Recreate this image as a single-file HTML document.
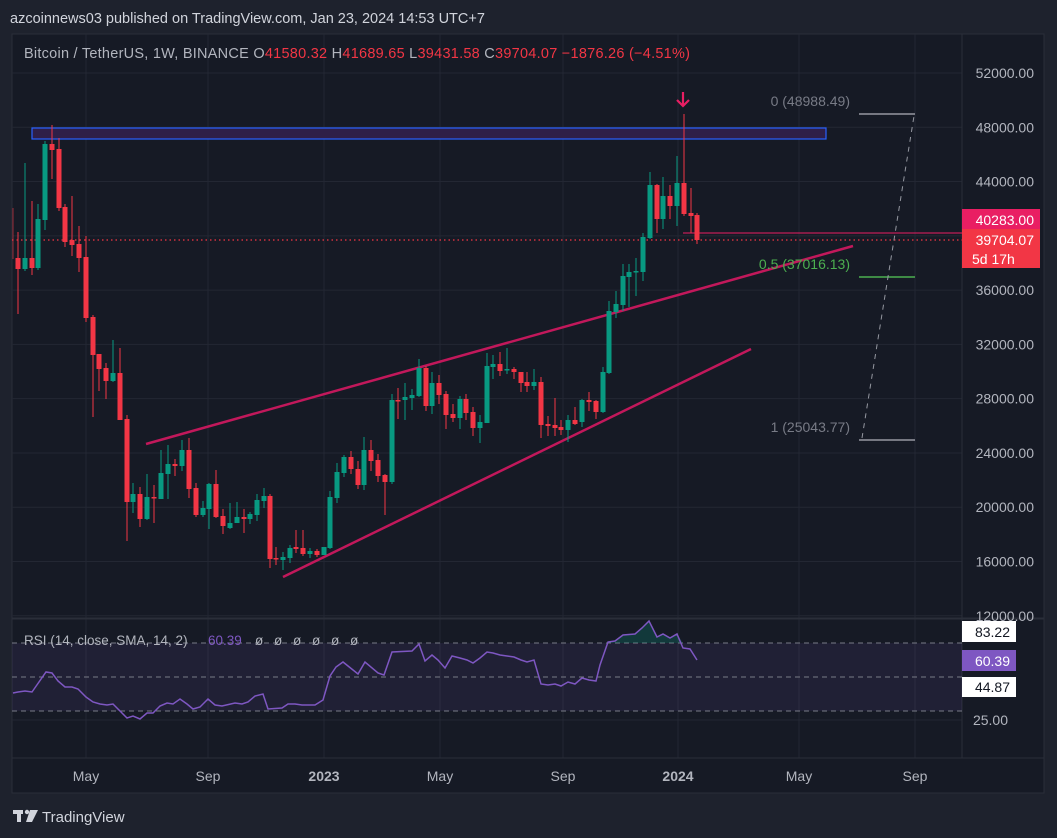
<!DOCTYPE html>
<html><head><meta charset="utf-8">
<style>
html,body{margin:0;padding:0;background:#1e222d;width:1057px;height:838px;overflow:hidden;font-family:"Liberation Sans",sans-serif}
svg{position:absolute;left:0;top:0}
</style></head>
<body>
<svg id="s" width="1057" height="838" xmlns="http://www.w3.org/2000/svg" font-family="Liberation Sans, sans-serif">
<rect x="0" y="0" width="1057" height="838" fill="#1e222d"/>
<text x="10" y="23" fill="#d1d4dc" font-size="14.5">azcoinnews03 published on TradingView.com, Jan 23, 2024 14:53 UTC+7</text>
<rect x="12" y="34" width="1032" height="759" fill="#161a25" stroke="#2a2e39" stroke-width="1"/>
<g id="grid"></g>
<rect x="12" y="643" width="950" height="68" fill="rgba(126,87,194,0.1)"/>
<line x1="12" y1="643" x2="962" y2="643" stroke="#787b86" stroke-dasharray="5,4" stroke-width="1"/>
<line x1="12" y1="677" x2="962" y2="677" stroke="#787b86" stroke-dasharray="5,4" stroke-width="1"/>
<line x1="12" y1="711" x2="962" y2="711" stroke="#787b86" stroke-dasharray="5,4" stroke-width="1"/>
<line x1="12" y1="618.5" x2="1044" y2="618.5" stroke="#2a2e39" stroke-width="2"/>
<rect x="32" y="128" width="794" height="11" fill="#2f1f48" stroke="#2962ff" stroke-width="1.2"/>
<line x1="12" y1="240" x2="962" y2="240" stroke="#f23645" stroke-dasharray="1.5,3" stroke-width="1.2"/>
<line x1="683" y1="233" x2="962" y2="233" stroke="#e91e63" stroke-width="1"/>
<line x1="146" y1="444" x2="853" y2="246" stroke="#c2185b" stroke-width="2.5"/>
<line x1="283" y1="577" x2="751" y2="349" stroke="#c2185b" stroke-width="2.5"/>
<g id="candles"></g>
<path d="M683 92 V106 M677 100 L683 106 L689 100" stroke="#e91e63" stroke-width="2.2" fill="none"/>
<line x1="859" y1="114" x2="915" y2="114" stroke="#9598a1" stroke-width="1.5"/>
<line x1="859" y1="277" x2="915" y2="277" stroke="#4caf50" stroke-width="1.5"/>
<line x1="859" y1="440" x2="915" y2="440" stroke="#9598a1" stroke-width="1.5"/>
<line x1="862" y1="438" x2="914" y2="116" stroke="#9598a1" stroke-width="1" stroke-dasharray="5,5"/>
<text x="850" y="106" fill="#787b86" font-size="14" text-anchor="end">0 (48988.49)</text>
<text x="850" y="269" fill="#4caf50" font-size="14" text-anchor="end">0.5 (37016.13)</text>
<text x="850" y="432" fill="#787b86" font-size="14" text-anchor="end">1 (25043.77)</text>
<polyline id="rsi" fill="none" stroke="#7e57c2" stroke-width="1.5"/>
<text x="24" y="645" fill="#b2b5be" font-size="13.5">RSI (14, close, SMA, 14, 2)</text>
<text x="208" y="645" fill="#7e57c2" font-size="13.5">60.39</text>
<g fill="#b2b5be" font-size="13.5">
<text x="255" y="645">ø</text><text x="274" y="645">ø</text><text x="293" y="645">ø</text><text x="312" y="645">ø</text><text x="331" y="645">ø</text><text x="350" y="645">ø</text>
</g>
<g id="axis" fill="#b2b5be" font-size="14"></g>
<rect x="962" y="621" width="54" height="21" fill="#ffffff"/>
<text x="1010" y="637" fill="#131722" font-size="14" text-anchor="end">83.22</text>
<rect x="962" y="650" width="54" height="21" fill="#7e57c2"/>
<text x="1010" y="666" fill="#ffffff" font-size="14" text-anchor="end">60.39</text>
<rect x="962" y="677" width="54" height="20" fill="#ffffff"/>
<text x="1010" y="692" fill="#131722" font-size="14" text-anchor="end">44.87</text>
<text x="1008" y="725" fill="#b2b5be" font-size="14" text-anchor="end">25.00</text>
<rect x="962" y="209" width="78" height="20" fill="#e91e63"/>
<text x="1034" y="225" fill="#ffffff" font-size="14" text-anchor="end">40283.00</text>
<rect x="962" y="229" width="78" height="39" fill="#f23645"/>
<text x="1034" y="245" fill="#ffffff" font-size="14" text-anchor="end">39704.07</text>
<text x="972" y="264" fill="#ffffff" font-size="14">5d 17h</text>
<g fill="#b2b5be" font-size="14" text-anchor="middle">
<text x="86" y="781">May</text><text x="208" y="781">Sep</text><text x="324" y="781" font-weight="bold">2023</text>
<text x="440" y="781">May</text><text x="563" y="781">Sep</text><text x="678" y="781" font-weight="bold">2024</text>
<text x="799" y="781">May</text><text x="915" y="781">Sep</text>
</g>
<text x="24" y="58" fill="#b2b5be" font-size="14.5" textLength="666" lengthAdjust="spacing">Bitcoin / TetherUS, 1W, BINANCE  O<tspan fill="#f23645">41580.32</tspan>  H<tspan fill="#f23645">41689.65</tspan>  L<tspan fill="#f23645">39431.58</tspan>  C<tspan fill="#f23645">39704.07</tspan>  <tspan fill="#f23645">−1876.26 (−4.51%)</tspan></text>
<g fill="#d1d4dc"><rect x="13" y="810" width="10" height="4"/><rect x="17" y="810" width="4" height="12"/><circle cx="27" cy="812" r="2.2"/><path d="M30 810 H38 L32 822 H26 Z"/></g>
<text x="42" y="822" fill="#d1d4dc" font-size="15">TradingView</text>
</svg>
<script>
var NS="http://www.w3.org/2000/svg";
function el(p,t,a){var e=document.createElementNS(NS,t);for(var k in a)e.setAttribute(k,a[k]);p.appendChild(e);return e;}
var grid=document.getElementById('grid'),axis=document.getElementById('axis');
for(var p=12000;p<=52000;p+=4000){var y=73+(52000-p)*0.01357;
 el(grid,'line',{x1:12,x2:962,y1:y,y2:y,stroke:'#232733','stroke-width':1});
 var t=el(axis,'text',{x:1034,y:y+5,'text-anchor':'end'});t.textContent=p+'.00';}
el(grid,'line',{x1:12,x2:962,y1:720,y2:720,stroke:'#232733','stroke-width':1});
[86,208,324,440,563,678,799,915].forEach(function(x){el(grid,'line',{x1:x,x2:x,y1:34,y2:758,stroke:'#232733','stroke-width':1});});
el(grid,'line',{x1:962,x2:962,y1:34,y2:758,stroke:'#2a2e39','stroke-width':1});
el(grid,'line',{x1:12,x2:1044,y1:758,y2:758,stroke:'#2a2e39','stroke-width':1});
var C=[
[18,258,269,232,314,'r'],[25,258,269,163,271,'g'],[32,258,268,201,275,'r'],[38,219,268,204,270,'g'],
[45,144,220,141,230,'g'],[52,144,150,125,179,'r'],[59,149,208,138,211,'r'],[65,207,242,204,247,'r'],
[72,240,245,196,256,'r'],[79,244,258,226,272,'r'],[86,257,318,236,322,'r'],[93,317,355,315,417,'r'],
[99,354,369,354,391,'r'],[106,368,381,363,399,'r'],[113,373,381,340,382,'g'],[120,373,420,348,420,'r'],
[127,419,502,415,541,'r'],[133,494,502,483,513,'g'],[140,494,519,487,527,'r'],[147,497,519,474,520,'g'],
[154,497,498,485,523,'r'],[161,473,499,450,499,'g'],[168,464,474,445,499,'g'],[175,464,466,459,476,'r'],
[182,450,466,440,471,'g'],[189,450,489,438,498,'r'],[196,488,515,483,517,'r'],[203,508,515,501,517,'g'],
[209,484,509,483,529,'g'],[216,484,517,470,518,'r'],[223,516,526,509,534,'r'],[230,523,528,503,529,'g'],
[237,517,523,502,523,'g'],[244,517,519,509,533,'r'],[250,514,519,512,524,'g'],[257,500,515,494,521,'g'],
[264,496,501,488,508,'g'],[270,496,559,494,568,'r'],[276,558,559,547,565,'r'],[283,557,560,552,570,'g'],
[290,548,558,545,563,'g'],[296,547,549,530,553,'r'],[303,548,554,530,556,'r'],[310,551,554,548,558,'g'],
[317,551,555,549,557,'r'],[324,547,555,547,555,'g'],[330,497,548,491,549,'g'],[337,472,498,463,503,'g'],
[344,457,473,455,477,'g'],[351,457,469,451,474,'r'],[358,469,485,461,489,'r'],[364,450,485,437,490,'g'],
[371,450,461,440,471,'r'],[378,460,476,454,482,'r'],[385,475,482,474,515,'r'],[392,400,482,394,484,'g'],
[398,400,401,388,419,'r'],[405,397,400,383,420,'g'],[412,395,398,389,410,'g'],[419,368,396,359,397,'g'],
[426,368,406,366,411,'r'],[432,383,406,372,414,'g'],[439,383,395,375,404,'r'],[446,394,415,391,429,'r'],
[453,414,418,404,422,'r'],[460,399,418,396,429,'g'],[466,399,413,394,420,'r'],[473,412,428,407,436,'r'],
[480,422,428,415,443,'g'],[487,366,423,353,423,'g'],[493,364,367,355,379,'g'],[500,364,371,352,376,'r'],
[507,369,370,348,374,'g'],[514,369,372,367,379,'r'],[521,372,383,372,392,'r'],[527,382,386,372,392,'r'],
[534,382,386,369,390,'g'],[541,382,425,377,438,'r'],[548,424,426,416,436,'r'],[555,425,428,398,436,'r'],
[561,427,430,420,435,'r'],[568,420,430,415,442,'g'],[575,420,424,407,425,'r'],[582,400,422,399,427,'g'],
[589,400,402,392,411,'r'],[596,401,412,400,419,'r'],[603,372,412,367,413,'g'],[609,311,373,301,374,'g'],
[616,304,312,291,318,'g'],[623,276,305,264,311,'g'],[629,272,277,264,307,'g'],[636,271,272,258,296,'g'],
[643,237,272,233,281,'g'],[650,185,238,172,239,'g'],[657,185,219,184,233,'r'],[663,196,219,177,229,'g'],
[670,196,206,185,219,'r'],[677,183,206,156,226,'g'],[684,183,214,114,216,'r'],[691,213,216,188,233,'r'],
[697,215,240,213,244,'r']];
var cg=document.getElementById('candles');
el(cg,'line',{x1:13,x2:13,y1:208,y2:259,stroke:'#f23645','stroke-width':1,opacity:0.6});
C.forEach(function(c){var col=c[5]=='g'?'#089981':'#f23645';
 el(cg,'line',{x1:c[0],x2:c[0],y1:c[3],y2:c[4],stroke:col,'stroke-width':1});
 el(cg,'rect',{x:c[0]-2.5,y:c[1],width:5,height:Math.max(1.5,c[2]-c[1]),fill:col});});
var R=[[13,693],[18,692],[25,691],[32,692],[46,672],[52,673],[58,681],[65,687],[72,687],[78,689],[86,697],[93,702],[100,704],[107,705],[113,704],[127,718],[133,716],[140,719],[147,713],[153,713],[160,706],[167,703],[173,704],[180,699],[187,704],[193,709],[200,707],[208,699],[215,705],[222,706],[235,703],[242,704],[248,702],[255,696],[263,694],[268,709],[282,708],[288,704],[295,704],[302,705],[308,705],[315,705],[323,700],[330,676],[336,667],[343,662],[358,674],[365,662],[378,673],[384,675],[392,652],[412,651],[419,644],[425,661],[432,655],[438,660],[445,668],[452,656],[460,658],[467,660],[473,663],[480,658],[487,652],[493,653],[500,655],[507,656],[514,657],[521,660],[527,662],[534,660],[541,684],[548,685],[555,684],[561,686],[568,682],[575,684],[582,678],[589,680],[596,681],[600,665],[608,642],[615,641],[623,635],[635,634],[642,628],[649,621],[657,637],[663,634],[670,638],[677,634],[683,648],[690,649],[697,660]];
document.getElementById('rsi').setAttribute('points',R.map(function(p){return p.join(',')}).join(' '));
var pts=R.filter(function(p){return p[0]>=606&&p[0]<=684;});
var d='M606,643 '+pts.map(function(p){return 'L'+p[0]+','+Math.min(p[1],643)}).join(' ')+' L684,643 Z';
var s=document.getElementById('s');var f=document.createElementNS(NS,'path');f.setAttribute('d',d);f.setAttribute('fill','rgba(8,153,129,0.25)');s.insertBefore(f,document.getElementById('rsi'));
</script>
</body></html>
